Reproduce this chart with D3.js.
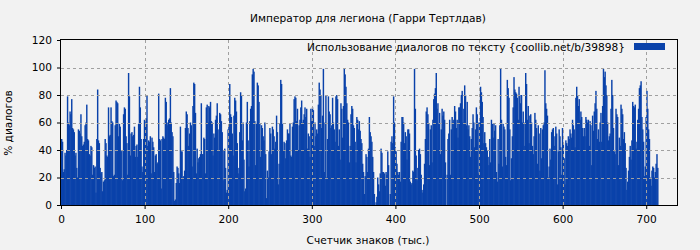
<!DOCTYPE html>
<html><head><meta charset="utf-8">
<script src="https://cdn.jsdelivr.net/npm/d3@7"></script>
<style>
html,body{margin:0;padding:0;background:#f2f2f2;}
svg{display:block;font-family:"DejaVu Sans",sans-serif;}
</style></head>
<body><div id="chart"></div>
<script>
const title = "Император для легиона (Гарри Тертлдав)";
const legendLabel = "Использование диалогов по тексту {coollib.net/b/39898}";
const xLabel = "Счетчик знаков (тыс.)";
const yLabel = "% диалогов";
const xTicks = [0,100,200,300,400,500,600,700];
const yTicks = [0,20,40,60,80,100,120];
// one value per thousand characters (% dialogue)
const values = [
48,46,24,26,38,36,40,79,60,58,68,66,77,56,55,53,36,38,27,20,55,54,52,66,50,43,44,46,58,60,73,48,47,37,36,43,42,22,29,27,28,9,48,84,47,45,27,23,24,10,17,18,48,45,36,35,71,50,51,71,61,60,
21,22,58,76,75,74,50,59,57,39,40,18,66,71,70,50,45,22,96,79,36,52,53,50,51,57,35,43,44,35,59,86,71,48,28,24,48,62,60,63,80,43,47,46,50,23,49,46,42,24,36,37,30,31,81,48,47,12,48,50,49,48,78,75,60,58,
62,63,85,60,53,50,24,3,4,16,28,27,23,16,57,39,39,20,21,25,56,68,66,56,43,52,60,58,28,72,89,88,67,23,41,31,34,35,37,74,37,37,49,48,23,71,73,60,72,71,75,61,60,36,52,49,62,65,74,55,40,67,66,61,53,18,
40,41,27,9,11,55,58,88,66,64,52,36,65,78,76,68,45,23,27,53,82,80,47,60,33,10,12,60,75,47,28,61,70,72,95,99,97,61,29,59,89,87,75,59,35,58,56,50,47,60,37,5,25,20,39,56,52,37,57,55,50,41,46,65,53,15,
30,59,91,88,59,40,46,45,34,47,55,52,52,59,36,35,57,60,77,79,78,61,70,40,58,62,71,76,60,62,66,71,64,70,41,52,50,35,70,61,71,69,43,60,50,55,52,73,89,84,80,56,65,99,24,60,80,20,48,79,68,66,56,58,78,60,
55,46,79,80,77,43,55,33,74,70,49,72,99,95,86,74,62,60,31,43,66,72,70,58,56,46,31,64,62,55,61,54,48,45,30,24,8,21,37,35,24,41,64,53,50,46,35,24,8,0,2,6,20,15,10,23,41,38,24,24,23,14,24,22,39,29,
0,8,46,50,45,79,60,42,39,30,24,22,24,17,46,64,64,60,45,53,50,33,55,55,52,17,15,16,25,24,99,70,36,18,27,40,41,37,22,11,9,15,30,48,68,71,66,59,29,55,58,31,62,77,81,85,96,70,74,59,67,37,55,70,65,68,
62,31,0,22,48,52,62,22,55,64,60,62,72,68,56,62,49,71,71,74,80,83,60,70,87,80,58,75,55,58,50,35,48,56,66,60,42,55,71,66,60,23,60,86,82,75,64,45,53,45,42,40,35,29,48,31,62,59,49,59,54,58,24,17,48,30,
58,99,62,28,59,57,55,35,29,91,85,78,55,18,34,50,71,93,84,82,81,78,62,86,80,74,80,60,68,60,43,96,88,62,72,45,65,66,60,43,37,50,67,62,56,30,58,52,25,56,34,55,58,60,98,74,70,65,20,28,41,33,53,55,56,43,
50,57,52,15,39,55,50,42,22,56,45,34,15,47,45,43,50,48,55,52,49,62,58,55,42,78,86,80,72,77,62,68,64,56,50,56,50,64,62,60,62,43,61,58,29,65,54,68,74,83,70,48,55,46,60,67,46,72,99,93,97,87,80,60,47,50,
52,70,91,80,56,39,37,70,66,64,29,49,43,73,70,66,48,53,45,27,11,17,25,35,43,33,47,75,72,71,73,41,46,62,70,85,87,90,64,55,46,21,28,64,83,70,55,48,20,14,25,28,27,20,24,30,37,27
];
const W = 700, H = 250;
const m = {left:61, right:22, top:40, bottom:45};
const svg = d3.select("#chart").append("svg").attr("width",W).attr("height",H);
svg.append("rect").attr("width",W).attr("height",H).attr("fill","#f2f2f2");
const x = d3.scaleLinear().domain([0,738]).range([m.left, W-m.right]);
const y = d3.scaleLinear().domain([0,120]).range([H-m.bottom, m.top]);
const barColor = "#0a42aa";
const fs = 10.6;

// bars
svg.append("g").selectAll("rect").data(values).join("rect")
  .attr("x",(d,i)=>x(i))
  .attr("width",(d,i)=>x(i+1)-x(i)+0.6)
  .attr("y",d=>y(d))
  .attr("height",d=>y(0)-y(d))
  .attr("fill",barColor);

// grid (drawn in front of bars)
const grid = svg.append("g").attr("stroke","#a0a0a0").attr("stroke-dasharray","3,3").attr("stroke-width",1);
yTicks.filter(d=>d>0 && d<120).forEach(d=>{
  grid.append("line").attr("x1",x(0)).attr("x2",x(738)).attr("y1",Math.round(y(d))+0.5).attr("y2",Math.round(y(d))+0.5);
});
xTicks.filter(d=>d>0).forEach(d=>{
  grid.append("line").attr("y1",y(0)).attr("y2",y(120)).attr("x1",Math.round(x(d))+0.5).attr("x2",Math.round(x(d))+0.5);
});

// axes
const xAxis = svg.append("g").attr("transform",`translate(0,${y(0)})`)
  .call(d3.axisBottom(x).tickValues(xTicks).tickSize(4).tickFormat(d3.format("d")));
const yAxis = svg.append("g").attr("transform",`translate(${x(0)},0)`)
  .call(d3.axisLeft(y).tickValues(yTicks).tickSize(4).tickFormat(d3.format("d")));
[xAxis,yAxis].forEach(a=>{
  a.select(".domain").remove();
  a.selectAll("text").attr("font-size",fs).attr("fill","#000").attr("font-family","DejaVu Sans, sans-serif");
  a.selectAll("line").attr("stroke","#000");
});
xAxis.selectAll("text").attr("dy","1.05em");
yAxis.selectAll("text").attr("dx","-0.2em");

// frame
svg.append("rect").attr("x",x(0)+0.5-1).attr("y",y(120)-0.5).attr("width",x(738)-x(0)).attr("height",y(0)-y(120)+1)
  .attr("fill","none").attr("stroke","#000").attr("stroke-width",1);

// title & labels
svg.append("text").attr("x",368).attr("y",22).attr("text-anchor","middle").attr("font-size",fs).text(title);
svg.append("text").attr("x",368).attr("y",244).attr("text-anchor","middle").attr("font-size",fs).text(xLabel);
svg.append("text").attr("transform","translate(12,123) rotate(-90)").attr("text-anchor","middle").attr("font-size",fs).text(yLabel);

// legend
svg.append("text").attr("x",625).attr("y",51).attr("text-anchor","end").attr("font-size",fs).text(legendLabel);
svg.append("rect").attr("x",634).attr("y",43).attr("width",31).attr("height",7).attr("fill",barColor);
</script></body></html>
